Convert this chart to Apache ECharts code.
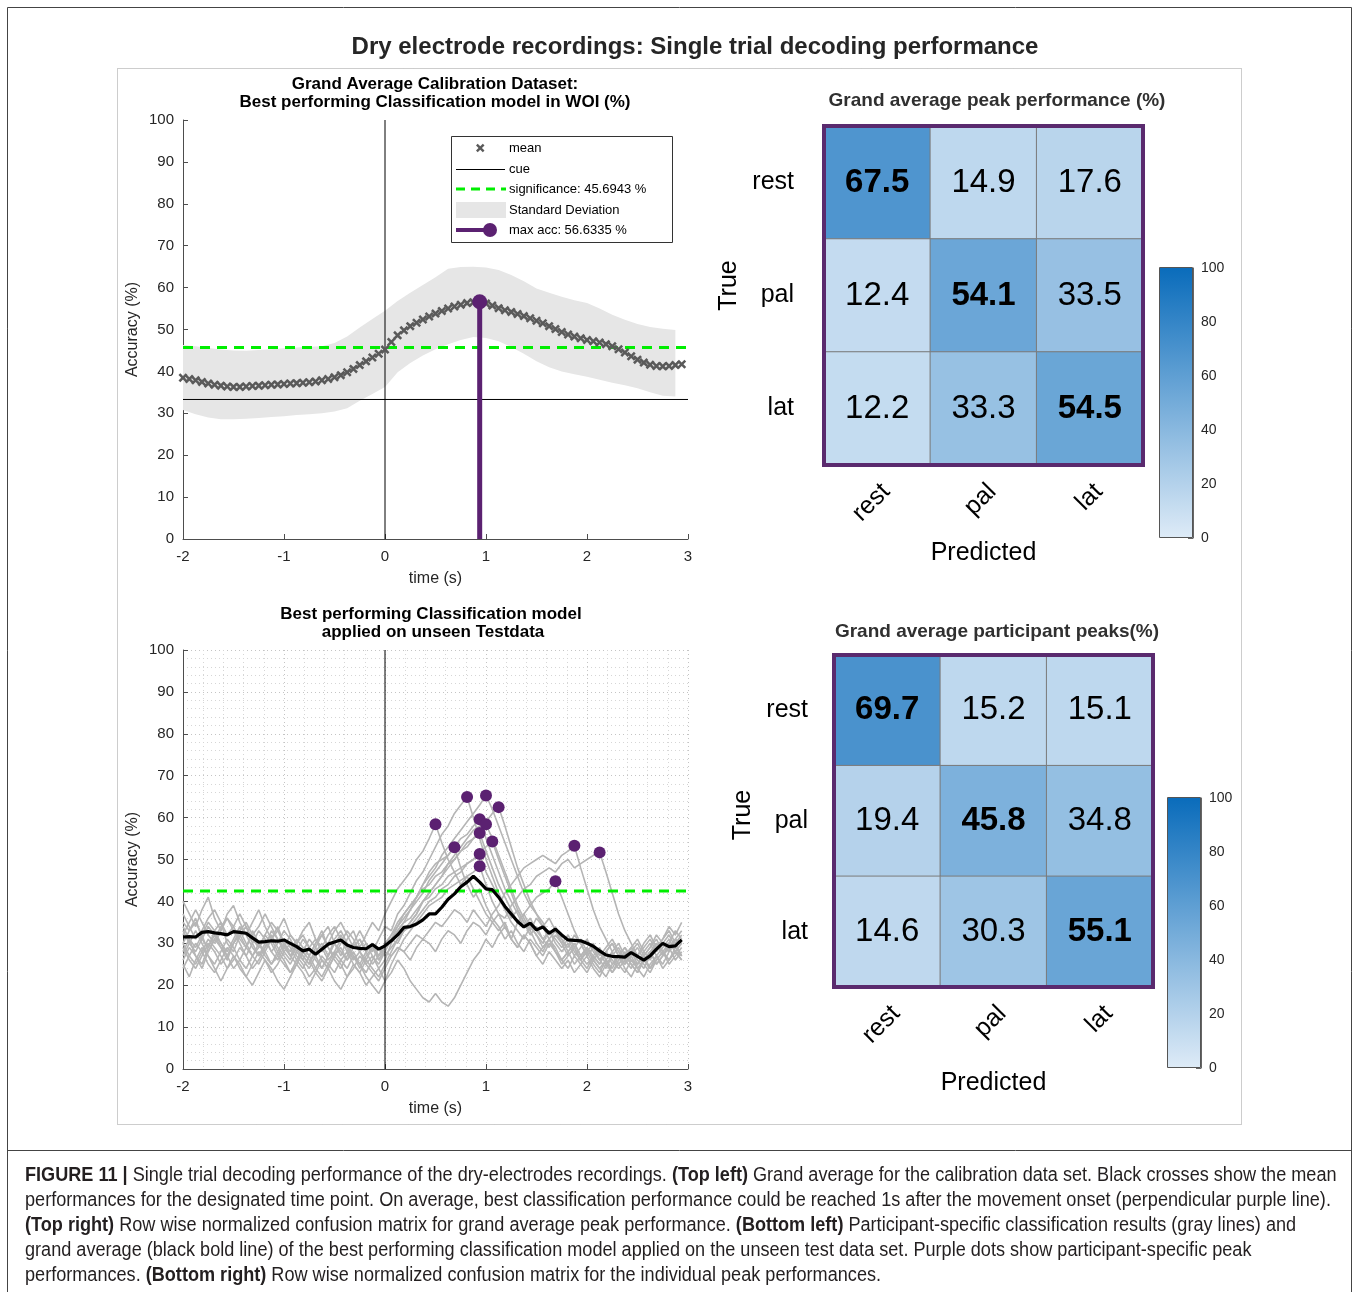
<!DOCTYPE html>
<html><head><meta charset="utf-8">
<script src="https://cdn.jsdelivr.net/npm/echarts@6/dist/echarts.min.js"></script>
<style>html,body{margin:0;padding:0;background:#fff}#c{width:1358px;height:1292px}</style>
</head><body><div id="c"></div>
<script>
const FONT = '"Liberation Sans", Arial, Helvetica, sans-serif';

// ---------- sampling grid ----------
const tStart = -2, tStep = 0.0625;   // time samples (s)
const bandStep = 0.125;              // std band samples (s)

// ---------- top left: calibration grand average ----------
const calibMean = [
 38.5,38.2,37.9,37.5,37.1,36.8,36.6,36.4,36.3,36.3,
 36.4,36.5,36.6,36.7,36.8,36.9,37.0,37.1,37.2,37.3,
 37.4,37.6,37.9,38.2,38.6,39.1,39.8,40.6,41.5,42.4,
 43.3,44.2,45.2,47.0,48.6,49.8,50.8,51.6,52.4,53.1,
 53.8,54.4,55.0,55.5,55.9,56.3,56.5,56.6,56.2,55.7,
 55.1,54.6,54.2,53.7,53.2,52.7,52.1,51.5,50.8,50.1,
 49.4,48.8,48.3,47.9,47.5,47.2,46.9,46.5,46.0,45.3,
 44.5,43.6,42.8,42.1,41.6,41.3,41.2,41.3,41.5,41.7];
const calibUpper = [
 46.3,46.0,45.6,45.2,45.0,44.9,45.1,45.3,45.5,45.7,
 45.9,46.0,46.8,48.3,50.5,52.5,54.5,56.8,58.8,60.6,
 62.5,64.5,64.9,65.0,64.8,64.2,63.0,61.5,59.8,58.8,
 57.8,57.0,56.3,55.0,53.5,52.3,51.3,50.6,50.2,49.9];
const calibLower = [
 30.8,29.8,29.0,28.6,28.6,28.7,28.9,29.1,29.3,29.6,
 29.8,30.0,30.4,31.2,33.0,34.6,36.3,39.8,42.0,43.8,
 45.3,46.5,47.5,48.2,48.0,47.2,45.8,44.2,42.4,41.0,
 40.0,39.3,38.7,38.0,37.3,36.7,36.0,35.0,34.2,34.0];
const sigCalib = 45.6943;
const maxAccTime = 0.9375, maxAcc = 56.6335;
const chanceLevel = 33.3, cueTime = 0;

// ---------- bottom left: unseen test data ----------
const sigTest = 42.5;
const testMean = [
 31.5,31.6,31.5,32.6,32.8,32.5,32.3,32.0,32.8,32.6,
 32.4,31.3,30.3,30.4,30.6,30.5,30.8,30.0,29.2,28.2,
 28.6,27.4,28.6,29.8,30.3,30.8,29.6,29.0,28.8,28.7,
 29.7,28.6,29.4,30.6,32.0,33.8,34.0,34.6,35.6,37.0,
 37.0,38.6,40.5,41.8,43.5,44.6,46.0,44.6,43.0,42.8,
 41.0,38.8,37.0,35.2,33.9,34.8,33.2,33.9,32.4,33.4,
 32.0,30.8,30.7,30.6,30.0,29.3,28.2,27.2,26.9,26.8,
 26.7,27.8,26.9,26.0,27.0,28.6,30.0,29.2,29.4,30.8];
const participant01 = [35,33,36,31,29,33,35,30,28,32, 34,30,27,29,33,31,28,26,30,27, 25,29,32,34,30,27,31,33,29,32, 35,33,37,40,43,45,47,50,52,55, 58.4,54,50,47,44,46,43,40,37,35, 33,35,31,29,32,30,27,29,31,28, 26,28,30,27,25,27,29,26,24,27, 29,26,25,28,30,27,29,31,28,30];
const participant02 = [28,31,27,25,29,32,30,27,24,26, 29,33,30,27,25,28,31,29,26,24, 27,30,33,29,26,24,27,30,28,25, 27,24,26,30,33,35,38,41,44,47, 49,50,51,52.9,48,44,41,43,39,36, 34,31,33,30,28,31,29,27,30,28, 25,27,29,26,28,25,23,26,28,25, 27,29,26,24,27,30,28,26,29,27];
const participant03 = [40,37,34,38,41,36,33,37,39,35, 32,35,38,34,31,33,36,32,30,33, 35,31,29,32,34,31,28,30,33,30, 28,31,34,33,37,39,42,45,47,50, 53,56,58,61,63,64.9,60,55,50,46, 42,39,36,38,35,33,36,34,31,33, 30,32,29,31,28,30,27,29,31,28, 26,29,27,30,32,29,31,34,32,35];
const participant04 = [30,33,35,32,28,31,34,36,33,30, 27,30,33,31,28,26,29,32,30,27, 25,28,30,27,31,33,30,27,25,28, 30,27,29,32,34,37,39,41,44,46, 48,51,53,55,57,59,61,63,65.3,62, 58,54,50,46,42,39,37,34,36,33, 31,28,30,27,29,26,28,25,27,29, 26,28,25,27,29,31,28,30,33,31];
const participant05 = [26,29,27,24,28,31,29,26,30,33, 30,27,25,28,31,34,30,27,29,26, 24,27,29,26,28,31,29,26,28,30, 27,25,28,31,30,33,35,37,40,42, 44,46,49,51,53,55,57,58,59,61, 62.5,58,53,48,44,40,37,35,32,34, 31,29,32,30,27,29,26,28,30,27, 25,27,29,26,28,25,27,30,28,26];
const participant06 = [33,30,28,31,34,32,29,27,30,33, 35,32,29,31,28,30,33,31,28,26, 29,31,28,30,33,35,32,29,31,28, 30,26,29,31,34,36,38,40,42,45, 47,49,51,53,55,56,58,59.6,55,51, 47,43,40,37,34,36,33,31,33,30, 28,30,27,29,31,28,26,28,25,27, 29,27,24,26,28,30,27,29,31,30];
const participant07 = [24,27,30,28,25,23,26,29,27,24, 22,25,28,26,23,25,28,30,27,25, 22,24,27,25,23,26,28,25,23,26, 24,22,25,28,31,33,35,37,40,42, 44,46,48,50,52,54,55,57,58.4,55, 51,47,43,39,36,33,30,28,31,29, 26,24,27,25,23,26,24,22,25,27, 24,22,25,27,24,26,28,25,27,29];
const participant08 = [37,34,31,33,36,38,35,32,34,37, 34,31,29,32,35,33,30,28,31,29, 27,30,32,29,27,30,33,31,28,26, 29,27,30,32,35,37,39,41,43,44, 46,47,49,50,52,53,55,56.3,52,48, 44,41,38,35,37,34,32,30,33,31, 29,31,28,26,29,27,25,28,30,27, 25,28,30,27,29,32,30,28,31,33];
const participant09 = [29,26,24,27,30,28,25,27,30,32, 29,27,30,28,25,27,30,27,25,28, 31,29,26,24,27,29,26,28,25,23, 26,29,27,29,31,33,34,36,38,40, 41,43,44,46,47,49,50,52,53,54.3, 50,46,42,38,35,32,34,31,29,32, 30,27,29,26,24,27,25,28,26,24, 26,24,27,25,23,26,28,26,28,27];
const participant10 = [32,35,38,35,32,30,33,36,34,31, 29,32,34,37,34,31,29,27,30,32, 29,27,24,27,30,28,26,29,31,28, 25,27,29,31,33,35,36,38,40,41, 43,44,46,47,48,49,50,51.3,47,44, 41,38,35,33,31,34,32,29,31,28, 26,28,25,27,29,26,24,26,23,25, 27,25,23,26,28,25,27,29,26,28];
const participant11 = [27,30,33,30,27,25,28,31,29,26, 24,27,29,32,30,27,25,23,26,29, 27,24,22,25,28,26,24,27,25,22, 20,18,21,25,28,31,33,35,37,39, 40,41,43,44,45,46,47,48.4,44,40, 37,34,31,29,32,30,27,25,28,26, 24,26,23,25,27,24,22,25,23,26, 28,25,23,26,24,27,25,28,30,27];
const participant12 = [25,22,26,29,27,24,21,24,27,25, 22,20,23,26,24,21,19,22,25,23, 20,23,26,24,21,19,22,25,23,20, 22,24,21,23,26,24,21,19,17,16, 18,16,15,17,20,23,26,28,31,29, 32,34,31,35,37,39,41,42,43,44.8, 41,37,33,30,27,29,26,24,27,25, 23,26,24,22,25,27,24,26,28,26];
const participant13 = [34,31,29,32,35,33,30,28,31,34, 32,29,27,30,32,29,27,25,28,31, 29,26,24,27,30,32,29,27,24,27, 29,26,28,27,29,28,30,32,31,33, 35,34,36,38,37,35,38,36,34,37, 39,42,44,46,48,49,50,51,50,49, 51,52,53.3,48,43,38,34,31,28,30, 27,29,31,28,26,29,31,33,30,32];
const participant14 = [30,27,25,28,31,29,27,24,26,29, 27,24,26,29,31,28,26,23,25,28, 26,23,21,24,27,25,22,24,27,25, 23,21,24,27,29,28,26,29,31,30, 28,31,33,32,30,33,35,34,32,35, 37,36,39,41,43,44,46,47,48,47, 49,50,48,49,50,51,51.7,47,42,37, 33,30,27,29,31,28,30,32,29,31];
const participants = [participant01,participant02,participant03,participant04,participant05,participant06,participant07,
  participant08,participant09,participant10,participant11,participant12,participant13,participant14];

// ---------- confusion matrices ----------
const classes = ['rest', 'pal', 'lat'];
const confPeak = [[67.5,14.9,17.6],[12.4,54.1,33.5],[12.2,33.3,54.5]];
const confParticipant = [[69.7,15.2,15.1],[19.4,45.8,34.8],[14.6,30.3,55.1]];
const colorScale = ['#deebf7', '#0a6cbb'];
const colorMax = [100];

// ---------- build ----------
const tAt = i => tStart + i * tStep;
const pairs = (arr, step) => arr.map((v, i) => [tStart + i * (step || tStep), v]);
const heat = m => { const d = []; m.forEach((row, r) => row.forEach((v, c) => d.push({value:[c, r, v], label:{fontWeight: r === c ? 'bold' : 'normal'}}))); return d; };
const peakPoints = participants.map(p => { let k = 0; p.forEach((v, i) => { if (v > p[k]) k = i; }); return [tAt(k), p[k]]; });
const bandData = calibUpper.map((u, i) => [tStart + i * bandStep, calibLower[i], u]);

const axisCol = '#4d4d4d', txtCol = '#262626';
function lineX(g) {
  return {type:'value', gridIndex:g, min:-2, max:3, interval:1,
    name:'time (s)', nameLocation:'middle', nameGap:32, nameTextStyle:{fontSize:16, color:txtCol, fontFamily:FONT},
    axisLine:{onZero:false, lineStyle:{color:axisCol}}, axisTick:{inside:true, length:5, lineStyle:{color:axisCol}},
    axisLabel:{fontSize:15, color:txtCol, fontFamily:FONT, margin:10},
    splitLine:{show:g === 1, lineStyle:{color:'#c4c4c4', type:[1,3]}},
    minorTick:{show:false, splitNumber:5},
    minorSplitLine:{show:g === 1, lineStyle:{color:'#d6d6d6', type:[1,3]}}};
}
function lineY(g) {
  return {type:'value', gridIndex:g, min:0, max:100, interval:10,
    name:'Accuracy (%)', nameLocation:'middle', nameGap:42, nameRotate:90, nameTextStyle:{fontSize:16, color:txtCol, fontFamily:FONT},
    axisLine:{show:true, onZero:false, lineStyle:{color:axisCol}}, axisTick:{show:true, inside:true, length:5, lineStyle:{color:axisCol}},
    axisLabel:{fontSize:15, color:txtCol, fontFamily:FONT, margin:9},
    splitLine:{show:g === 1, lineStyle:{color:'#c4c4c4', type:[1,3]}},
    minorTick:{show:false, splitNumber:5},
    minorSplitLine:{show:g === 1, lineStyle:{color:'#d6d6d6', type:[1,3]}}};
}
function heatX(g, gap) {
  return {type:'category', gridIndex:g, data:classes, name:'Predicted', nameLocation:'middle', nameGap:gap,
    nameTextStyle:{fontSize:25, color:'#000', fontFamily:FONT},
    axisLine:{show:false}, axisTick:{show:false}, splitLine:{show:false},
    axisLabel:{rotate:45, fontSize:25, color:'#000', fontFamily:FONT, margin:14, verticalAlign:'top'}};
}
function heatY(g, gap, margin, pad) {
  return {type:'category', gridIndex:g, data:classes, inverse:true, name:'True', nameLocation:'middle', nameGap:gap, nameRotate:90,
    nameTextStyle:{fontSize:25, color:'#000', fontFamily:FONT, padding:[0, 0, 0, pad]},
    axisLine:{show:false}, axisTick:{show:false}, splitLine:{show:false},
    axisLabel:{fontSize:25, color:'#000', fontFamily:FONT, margin:margin}};
}
function cbX(g) { return {type:'category', gridIndex:g, data:['c'], show:false}; }
function cbY(g) {
  return {type:'value', gridIndex:g, min:0, max:100, interval:20, position:'right',
    axisLine:{show:true, lineStyle:{color:'#666'}}, axisTick:{show:true, inside:true, length:5, lineStyle:{color:'#666'}},
    minorTick:{show:true, splitNumber:2, length:4, lineStyle:{color:'#666'}},
    axisLabel:{fontSize:14, color:txtCol, fontFamily:FONT, margin:8}, splitLine:{show:false}};
}

const gray = '#b5b5b5', purple = '#5b2171', green = '#00ee00';
const crossPath = 'path://M0,2L2,0L5,3L8,0L10,2L7,5L10,8L8,10L5,7L2,10L0,8L3,5Z';
const series = [];
// top-left
series.push({type:'custom', xAxisIndex:0, yAxisIndex:0, data:bandData, encode:{x:0, y:[1, 2]}, silent:true, z:1,
  renderItem: (params, api) => {
    if (params.dataIndex !== 0) return null;
    const up = bandData.map(d => api.coord([d[0], d[2]]));
    const lo = bandData.map(d => api.coord([d[0], d[1]])).reverse();
    return {type:'polygon', shape:{points:up.concat(lo)}, style:{fill:'#e6e6e6'}};
  }});
series.push({type:'line', xAxisIndex:0, yAxisIndex:0, symbol:'none', lineStyle:{color:'#000', width:1}, data:[[-2, chanceLevel],[3, chanceLevel]], z:3});
series.push({type:'line', xAxisIndex:0, yAxisIndex:0, symbol:'none', lineStyle:{color:'#000', width:1}, data:[[cueTime, 0],[cueTime, 100]], z:3});
series.push({type:'line', xAxisIndex:0, yAxisIndex:0, symbol:'none', lineStyle:{color:green, width:3, type:[10,7]}, data:[[-2, sigCalib],[3, sigCalib]], z:4});
series.push({type:'scatter', xAxisIndex:0, yAxisIndex:0, symbol:crossPath,
  symbolSize:9, itemStyle:{color:'#5a5a5a', opacity:1}, data: pairs(calibMean), z:5});
series.push({type:'line', xAxisIndex:0, yAxisIndex:0, lineStyle:{color:purple, width:5}, itemStyle:{color:purple},
  data:[{value:[maxAccTime, 0], symbol:'none'}, {value:[maxAccTime, maxAcc], symbol:'circle', symbolSize:15}], z:6});
// bottom-left
participants.forEach(p => series.push({type:'line', xAxisIndex:1, yAxisIndex:1, symbol:'none', lineStyle:{color:gray, width:1.6}, data:pairs(p), z:2}));
series.push({type:'line', xAxisIndex:1, yAxisIndex:1, symbol:'none', lineStyle:{color:'#000', width:1}, data:[[cueTime, 0],[cueTime, 100]], z:3});
series.push({type:'line', xAxisIndex:1, yAxisIndex:1, symbol:'none', lineStyle:{color:green, width:3, type:[10,7]}, data:[[-2, sigTest],[3, sigTest]], z:4});
series.push({type:'line', xAxisIndex:1, yAxisIndex:1, symbol:'none', lineStyle:{color:'#000', width:3.2}, data:pairs(testMean), z:5});
series.push({type:'scatter', xAxisIndex:1, yAxisIndex:1, symbolSize:12, itemStyle:{color:purple, opacity:1}, data:peakPoints, z:6});
// heatmaps
const hmLabel = {show:true, fontSize:33, color:'#000', fontFamily:FONT, formatter: p => p.value[2].toFixed(1)};
const hmIdx = series.length;
series.push({type:'heatmap', xAxisIndex:2, yAxisIndex:2, data:heat(confPeak), label:hmLabel, itemStyle:{borderColor:'#7a7a7a', borderWidth:1}});
series.push({type:'heatmap', xAxisIndex:3, yAxisIndex:3, data:heat(confParticipant), label:hmLabel, itemStyle:{borderColor:'#7a7a7a', borderWidth:1}});
// colorbars
const cbFill = {type:'linear', x:0, y:0, x2:0, y2:1, colorStops:[{offset:0, color:colorScale[1]}, {offset:1, color:colorScale[0]}]};
series.push({type:'bar', xAxisIndex:4, yAxisIndex:4, data:colorMax, barWidth:'100%', itemStyle:{color:cbFill}, silent:true});
series.push({type:'bar', xAxisIndex:5, yAxisIndex:5, data:colorMax, barWidth:'100%', itemStyle:{color:cbFill}, silent:true});

// ---------- decorations ----------
const T = (x, y, text, size, weight, color, align) => ({type:'text', x, y, z:50,
  style:{text, fontSize:size, fontWeight:weight || 'normal', fill:color || '#000', align:align || 'center', verticalAlign:'middle', fontFamily:FONT}});
const legendX = 451, legendY = 136;
const legendRows = [148, 169, 189, 210, 230];
const crossPts = [[0,2],[2,0],[5,3],[8,0],[10,2],[7,5],[10,8],[8,10],[5,7],[2,10],[0,8],[3,5]].map(([a, b]) => [476 + a * 0.85, legendRows[0] - 4.25 + b * 0.85]);
const graphics = [
  {type:'rect', shape:{x:7.5, y:7.5, width:1344, height:1320}, style:{fill:null, stroke:'#444', lineWidth:1}, z:0},
  {type:'line', shape:{x1:7.5, y1:1150.5, x2:1351.5, y2:1150.5}, style:{stroke:'#444', lineWidth:1}, z:0},
  {type:'rect', shape:{x:117.5, y:68.5, width:1124, height:1056}, style:{fill:null, stroke:'#9a9a9a', lineWidth:1, lineDash:[1,1]}, z:0},
  T(695, 47, 'Dry electrode recordings: Single trial decoding performance', 24, 'bold', '#262626'),
  T(435, 84, 'Grand Average Calibration Dataset:', 17, 'bold'),
  T(435, 102, 'Best performing Classification model in WOI (%)', 17, 'bold'),
  T(431, 614, 'Best performing Classification model', 17, 'bold'),
  T(433, 632, 'applied on unseen Testdata', 17, 'bold'),
  T(997, 101, 'Grand average peak performance (%)', 19, 'bold', '#303030'),
  T(997, 632, 'Grand average participant peaks(%)', 19, 'bold', '#303030'),
  // legend
  {type:'rect', shape:{x:legendX + 0.5, y:legendY + 0.5, width:221, height:106}, style:{fill:'#fff', stroke:'#333', lineWidth:1}, z:40},
  {type:'polygon', shape:{points:crossPts}, style:{fill:'#5a5a5a'}, z:45},
  {type:'line', shape:{x1:456, y1:legendRows[1] + 0.5, x2:505, y2:legendRows[1] + 0.5}, style:{stroke:'#000', lineWidth:1}, z:45},
  {type:'line', shape:{x1:456, y1:legendRows[2], x2:506, y2:legendRows[2]}, style:{stroke:green, lineWidth:3, lineDash:[9,6]}, z:45},
  {type:'rect', shape:{x:456, y:legendRows[3] - 8, width:50, height:16}, style:{fill:'#e6e6e6'}, z:45},
  {type:'line', shape:{x1:456, y1:legendRows[4], x2:490, y2:legendRows[4]}, style:{stroke:purple, lineWidth:4}, z:45},
  {type:'circle', shape:{cx:490, cy:legendRows[4], r:7}, style:{fill:purple}, z:45},
  T(509, legendRows[0], 'mean', 13, 'normal', '#000', 'left'),
  T(509, legendRows[1], 'cue', 13, 'normal', '#000', 'left'),
  T(509, legendRows[2], 'significance: ' + sigCalib + ' %', 13, 'normal', '#000', 'left'),
  T(509, legendRows[3], 'Standard Deviation', 13, 'normal', '#000', 'left'),
  T(509, legendRows[4], 'max acc: ' + maxAcc + ' %', 13, 'normal', '#000', 'left'),
  // matrix borders
  {type:'rect', shape:{x:824, y:126, width:319, height:339}, style:{fill:null, stroke:'#5a2a6e', lineWidth:4}, z:60},
  {type:'rect', shape:{x:834, y:655, width:319, height:332}, style:{fill:null, stroke:'#5a2a6e', lineWidth:4}, z:60},
  // colorbar frames
  {type:'rect', shape:{x:1159.5, y:267.5, width:33, height:270}, style:{fill:null, stroke:'#555', lineWidth:1}, z:60},
  {type:'rect', shape:{x:1167.5, y:797.5, width:33, height:270}, style:{fill:null, stroke:'#555', lineWidth:1}, z:60},
  // caption (condensed look via horizontal scale)
  {type:'text', x:25, y:1163, scaleX:0.905, z:50, style:{
    text: '{b|FIGURE 11 |} Single trial decoding performance of the dry-electrodes recordings. {b|(Top left)} Grand average for the calibration data set. Black crosses show the mean\n' +
          'performances for the designated time point. On average, best classification performance could be reached 1s after the movement onset (perpendicular purple line).\n' +
          '{b|(Top right)} Row wise normalized confusion matrix for grand average peak performance. {b|(Bottom left)} Participant-specific classification results (gray lines) and\n' +
          'grand average (black bold line) of the best performing classification model applied on the unseen test data set. Purple dots show participant-specific peak\n' +
          'performances. {b|(Bottom right)} Row wise normalized confusion matrix for the individual peak performances.',
    fontSize:20, fontFamily:FONT, fill:'#231f20', lineHeight:25,
    rich:{b:{fontWeight:'bold', fontSize:20, fontFamily:FONT, fill:'#231f20', lineHeight:25}}}}
];

const option = {
  backgroundColor:'#fff',
  animation:false,
  textStyle:{fontFamily:FONT},
  grid:[
    {left:183, top:120, width:505, height:419},
    {left:183, top:650, width:505, height:419},
    {left:824, top:126, width:319, height:339},
    {left:834, top:655, width:319, height:332},
    {left:1160, top:268, width:33, height:270},
    {left:1168, top:798, width:33, height:270}
  ],
  xAxis:[lineX(0), lineX(1), heatX(2, 76), heatX(3, 84), cbX(4), cbX(5)],
  yAxis:[lineY(0), lineY(1), heatY(2, 82, 30, 20), heatY(3, 78, 26, 12), cbY(4), cbY(5)],
  visualMap:{show:false, min:0, max:100, seriesIndex:[hmIdx, hmIdx + 1], dimension:2, inRange:{color:colorScale}},
  series,
  graphic: graphics
};
const chart = echarts.init(document.getElementById('c'), null, {renderer:'canvas'});
chart.setOption(option);
</script></body></html>
